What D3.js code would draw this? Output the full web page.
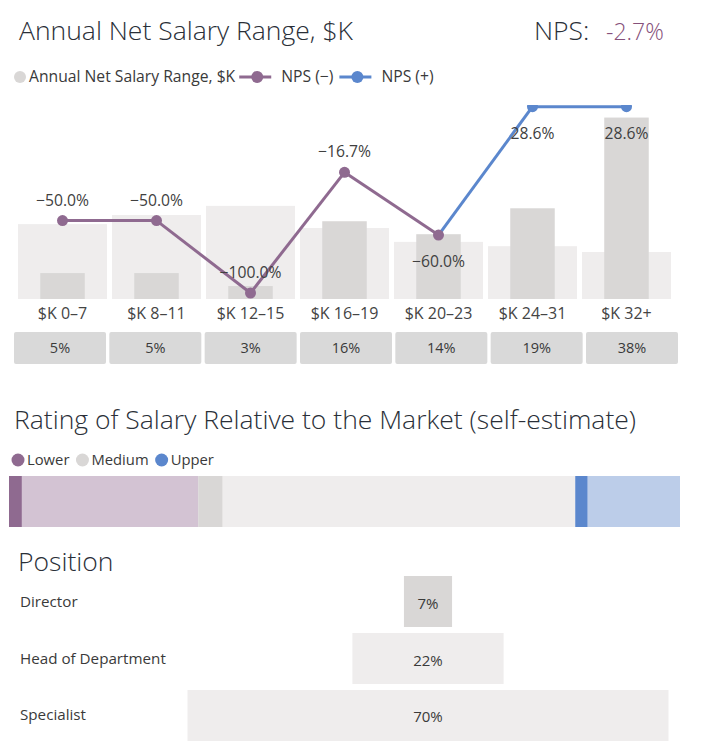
<!DOCTYPE html>
<html>
<head>
<meta charset="utf-8">
<script src="https://cdn.jsdelivr.net/npm/d3@7"></script>
<style>
  body { margin: 0; background: #fff; }
  text { font-family: "Open Sans", "Segoe UI", sans-serif; }
</style>
</head>
<body>
<div id="chart"></div>
<script>
// salary range data
var salaryRanges = ["$K 0–7", "$K 8–11", "$K 12–15", "$K 16–19", "$K 20–23", "$K 24–31", "$K 32+"];
var overallShare = [15.6, 17.5, 19.4, 14.8, 11.9, 11.0, 9.8];
var respondentShare = [5.4, 5.4, 2.7, 16.2, 13.5, 18.9, 37.8];
var npsValues = [-50, -50, -100, -16.7, -60, 28.6, 28.6];
var npsTotal = "-2.7%";

// self-estimate of salary vs market
var ratingLevels = ["Lower", "Medium", "Upper"];
var ratingShare = [28.2, 56.2, 15.6];
var ratingHighlight = [1.9, 3.6, 1.8];

// position funnel
var positions = ["Director", "Head of Department", "Specialist"];
var positionShare = [7, 22, 70];

var svgWidth = 708, svgHeight = 749;
var titleColor = "#2a2f38", textColor = "#3a3a3a";
var lightGrey = "#efeded", midGrey = "#d9d7d6";
var purple = "#8f6a90", blue = "#5b87cd";
var titleSize = 26.5;

var svg = d3.select("#chart").append("svg")
    .attr("width", svgWidth).attr("height", svgHeight);

// ---------- section 1: salary range ----------
svg.append("text").attr("x", 19).attr("y", 40)
    .attr("font-size", titleSize).attr("font-weight", 300).attr("fill", titleColor)
    .text("Annual Net Salary Range, $K");
svg.append("text").attr("x", 534).attr("y", 40)
    .attr("font-size", titleSize).attr("font-weight", 300).attr("fill", titleColor)
    .text("NPS:");
svg.append("text").attr("x", 606).attr("y", 40)
    .attr("font-size", 23).attr("font-weight", 300).attr("fill", "#86507a")
    .text(npsTotal);

// legend, laid out one item after another
var legend = svg.append("g").attr("transform", "translate(0,77)");
var lx = 20;
legend.append("circle").attr("cx", lx).attr("cy", 0).attr("r", 6).attr("fill", midGrey);
var lt = legend.append("text").attr("x", lx + 9).attr("y", 5).attr("font-size", 15.7)
    .attr("fill", textColor).text("Annual Net Salary Range, $K");
lx = lx + 9 + lt.node().getComputedTextLength() + 4;
[["NPS (−)", purple], ["NPS (+)", blue]].forEach(function(item) {
    legend.append("line").attr("x1", lx).attr("x2", lx + 32).attr("y1", 0).attr("y2", 0)
        .attr("stroke", item[1]).attr("stroke-width", 3);
    legend.append("circle").attr("cx", lx + 18).attr("cy", 0).attr("r", 6).attr("fill", item[1]);
    var t = legend.append("text").attr("x", lx + 42).attr("y", 5).attr("font-size", 15.7)
        .attr("fill", textColor).text(item[0]);
    lx = lx + 42 + t.node().getComputedTextLength() + 6;
});

var data = salaryRanges.map(function(r, i) {
    return { range: r, overall: overallShare[i], share: respondentShare[i], nps: npsValues[i] };
});

var xScale = d3.scaleBand().domain(salaryRanges).range([18, 671]).paddingInner(0.053);
var yScale = d3.scaleLinear().domain([0, 40]).range([299, 107]);
var npsScale = d3.scaleLinear().domain([-100, 28.6]).range([293, 106.7]);
var boxScale = d3.scaleBand().domain(salaryRanges).range([14, 678]).paddingInner(0.035);

var chartGroup = svg.append("g");

// wide background bars
chartGroup.selectAll("rect.overall").data(data).enter().append("rect")
    .attr("class", "overall")
    .attr("x", d => xScale(d.range))
    .attr("y", d => yScale(d.overall))
    .attr("width", xScale.bandwidth())
    .attr("height", d => yScale(0) - yScale(d.overall))
    .attr("fill", lightGrey);

// narrow respondent bars
chartGroup.selectAll("rect.share").data(data).enter().append("rect")
    .attr("class", "share")
    .attr("x", d => xScale(d.range) + xScale.bandwidth() / 4)
    .attr("y", d => yScale(d.share))
    .attr("width", xScale.bandwidth() / 2)
    .attr("height", d => yScale(0) - yScale(d.share))
    .attr("fill", midGrey);

// category labels
chartGroup.selectAll("text.cat").data(data).enter().append("text")
    .attr("class", "cat")
    .attr("x", d => xScale(d.range) + xScale.bandwidth() / 2)
    .attr("y", 319)
    .attr("text-anchor", "middle").attr("font-size", 16).attr("fill", "#444")
    .text(d => d.range);

// percentage boxes under the axis
chartGroup.selectAll("rect.box").data(data).enter().append("rect")
    .attr("class", "box")
    .attr("x", d => boxScale(d.range))
    .attr("y", 332)
    .attr("width", boxScale.bandwidth())
    .attr("height", 32)
    .attr("rx", 2)
    .attr("fill", "#d9d9d9");
chartGroup.selectAll("text.box").data(data).enter().append("text")
    .attr("class", "box")
    .attr("x", d => boxScale(d.range) + boxScale.bandwidth() / 2)
    .attr("y", 353)
    .attr("text-anchor", "middle").attr("font-size", 14.5).attr("fill", textColor)
    .text(d => Math.round(d.share) + "%");

// NPS line, clipped at the top of the plot
svg.append("clipPath").attr("id", "plotClip")
    .append("rect").attr("x", 0).attr("y", 105).attr("width", svgWidth).attr("height", 200);
var lineGroup = chartGroup.append("g").attr("clip-path", "url(#plotClip)");
var npsLine = d3.line()
    .x(d => xScale(d.range) + xScale.bandwidth() / 2)
    .y(d => npsScale(d.nps));

d3.pairs(data).forEach(function(p) {
    lineGroup.append("path")
        .attr("d", npsLine(p))
        .attr("fill", "none")
        .attr("stroke", p[1].nps >= 0 ? blue : purple)
        .attr("stroke-width", 3);
});
lineGroup.selectAll("circle").data(data).enter().append("circle")
    .attr("cx", d => xScale(d.range) + xScale.bandwidth() / 2)
    .attr("cy", d => npsScale(d.nps))
    .attr("r", 5.5)
    .attr("fill", d => d.nps >= 0 ? blue : purple);

// NPS labels: above the point, below where the point is at the top or in a dip after the peak
var labelBelow = d => d.nps >= 0 || d.range === "$K 20–23";
chartGroup.selectAll("text.nps").data(data).enter().append("text")
    .attr("class", "nps")
    .attr("x", d => xScale(d.range) + xScale.bandwidth() / 2)
    .attr("y", d => npsScale(d.nps) + (labelBelow(d) ? 32 : -15))
    .attr("text-anchor", "middle").attr("font-size", 15.7).attr("fill", "#404040")
    .text(d => d3.format(".1f")(d.nps).replace("-", "−") + "%");

// ---------- section 2: rating relative to market ----------
svg.append("text").attr("x", 14).attr("y", 429)
    .attr("font-size", titleSize).attr("font-weight", 300).attr("fill", titleColor)
    .text("Rating of Salary Relative to the Market (self-estimate)");

var ratingColors = [purple, midGrey, blue];
var ratingLight = ["#d3c3d3", lightGrey, "#bccde9"];
var rLegend = svg.append("g").attr("transform", "translate(0,460)");
var rx = 18;
ratingLevels.forEach(function(level, i) {
    rLegend.append("circle").attr("cx", rx).attr("cy", 0).attr("r", 6.5).attr("fill", ratingColors[i]);
    var t = rLegend.append("text").attr("x", rx + 9).attr("y", 5).attr("font-size", 14.8)
        .attr("fill", textColor).text(level);
    rx = rx + 9 + t.node().getComputedTextLength() + 13;
});

var ratingX = d3.scaleLinear().domain([0, 100]).range([9, 680]);
var ratingData = ratingLevels.map(function(level, i) {
    return { level: level, share: ratingShare[i], highlight: ratingHighlight[i],
             start: d3.sum(ratingShare.slice(0, i)), light: ratingLight[i], dark: ratingColors[i] };
});
svg.selectAll("rect.rating").data(ratingData).enter().append("rect")
    .attr("class", "rating")
    .attr("x", d => ratingX(d.start))
    .attr("y", 476)
    .attr("width", d => ratingX(d.start + d.share) - ratingX(d.start))
    .attr("height", 51)
    .attr("fill", d => d.light);
svg.selectAll("rect.ratingHi").data(ratingData).enter().append("rect")
    .attr("class", "ratingHi")
    .attr("x", d => ratingX(d.start))
    .attr("y", 476)
    .attr("width", d => ratingX(d.start + d.highlight) - ratingX(d.start))
    .attr("height", 51)
    .attr("fill", d => d.dark);

// ---------- section 3: position funnel ----------
svg.append("text").attr("x", 18).attr("y", 571)
    .attr("font-size", titleSize).attr("font-weight", 300).attr("fill", titleColor)
    .text("Position");

var posData = positions.map(function(p, i) { return { pos: p, share: positionShare[i] }; });
var posY = d3.scaleBand().domain(positions).range([576, 741]).paddingInner(0.105);
var posW = d3.scaleLinear().domain([0, 70]).range([0, 481]);
var funnelCenter = 428;

svg.selectAll("rect.pos").data(posData).enter().append("rect")
    .attr("class", "pos")
    .attr("x", d => funnelCenter - posW(d.share) / 2)
    .attr("y", d => posY(d.pos))
    .attr("width", d => posW(d.share))
    .attr("height", posY.bandwidth())
    .attr("fill", (d, i) => i === 0 ? midGrey : lightGrey);
svg.selectAll("text.posVal").data(posData).enter().append("text")
    .attr("class", "posVal")
    .attr("x", funnelCenter)
    .attr("y", d => posY(d.pos) + posY.bandwidth() / 2 + 7)
    .attr("text-anchor", "middle").attr("font-size", 15).attr("fill", textColor)
    .text(d => d.share + "%");
svg.selectAll("text.posName").data(posData).enter().append("text")
    .attr("class", "posName")
    .attr("x", 20)
    .attr("y", d => posY(d.pos) + posY.bandwidth() / 2 + 5)
    .attr("font-size", 15.2).attr("fill", textColor)
    .text(d => d.pos);
</script>
</body>
</html>
